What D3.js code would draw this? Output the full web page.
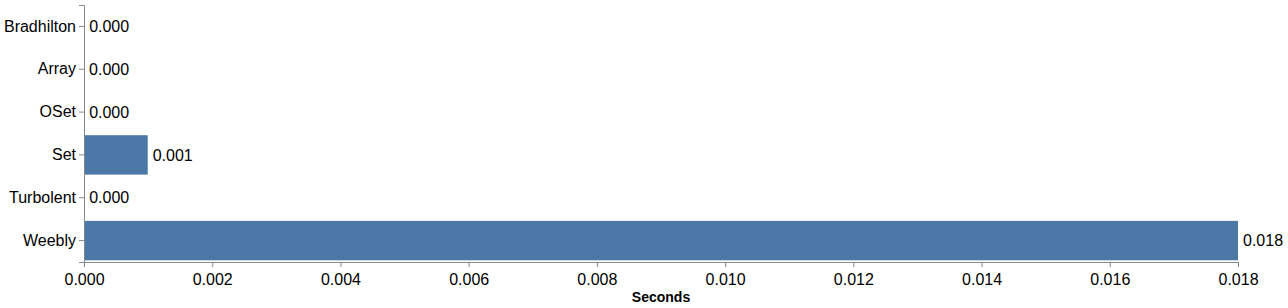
<!DOCTYPE html>
<html>
<head>
<meta charset="utf-8">
<script src="https://cdn.jsdelivr.net/npm/d3@7"></script>
<style>
  body { margin: 0; background: #fff; }
  text { font-family: "Liberation Sans", Arial, Helvetica, sans-serif; }
</style>
</head>
<body>
<svg></svg>
<script>
'use strict';

var categories = ['Bradhilton', 'Array', 'OSet', 'Set', 'Turbolent', 'Weebly'];
var seconds = [0.000002, 0.000001, 0.000002, 0.000994, 0.000003, 0.018];
var xTicks = [0, 0.002, 0.004, 0.006, 0.008, 0.010, 0.012, 0.014, 0.016, 0.018];

var SVG_SIZE = {width: 1288, height: 308};
var MARGIN_SIZE = {left: 84, right: 50, top: 5, bottom: 46};

var displayWidth = SVG_SIZE.width - MARGIN_SIZE.left - MARGIN_SIZE.right;
var displayHeight = SVG_SIZE.height - MARGIN_SIZE.top - MARGIN_SIZE.bottom;

var svg = d3.select('svg')
  .attr('width', SVG_SIZE.width).attr('height', SVG_SIZE.height);

var data = categories.map(function(c, i){ return {name: c, value: seconds[i]}; });

var xScale = d3.scaleLinear()
  .domain([0, 0.018])
  .range([0, displayWidth]);

var yScale = d3.scaleBand()
  .domain(categories)
  .range([0, displayHeight])
  .paddingInner(0.08)
  .paddingOuter(0.04);

var plot = svg.append('g')
  .attr('transform', 'translate(' + MARGIN_SIZE.left + ',' + MARGIN_SIZE.top + ')');

plot.selectAll('rect').data(data).enter().append('rect')
  .attr('x', 0)
  .attr('y', function(d){ return yScale(d.name); })
  .attr('width', function(d){ return xScale(d.value); })
  .attr('height', yScale.bandwidth())
  .attr('fill', '#4c78a8');

plot.selectAll('text.val').data(data).enter().append('text')
  .attr('class', 'val')
  .attr('x', function(d){ return xScale(d.value) + 5; })
  .attr('y', function(d){ return yScale(d.name) + yScale.bandwidth() / 2; })
  .attr('dy', '0.35em')
  .attr('font-size', 16)
  .attr('fill', '#000')
  .text(function(d){ return d3.format('.3f')(d.value); });

// x axis
var xAxis = d3.axisBottom(xScale).tickValues(xTicks).tickFormat(d3.format('.3f')).tickSizeOuter(0).tickSize(5);
var xg = svg.append('g')
  .attr('transform', 'translate(' + MARGIN_SIZE.left + ',' + (MARGIN_SIZE.top + displayHeight) + ')')
  .call(xAxis);
xg.selectAll('text').attr('font-size', 16).attr('font-family', null).attr('fill', '#000').attr('dy', '0.95em');

// y axis
var yAxis = d3.axisLeft(yScale).tickSizeOuter(0).tickSize(5);
var yg = svg.append('g')
  .attr('transform', 'translate(' + MARGIN_SIZE.left + ',' + MARGIN_SIZE.top + ')')
  .call(yAxis);
yg.selectAll('text').attr('font-size', 16).attr('font-family', null).attr('fill', '#000').attr('x', -8);

svg.selectAll('.domain').attr('stroke', '#888');
svg.selectAll('.tick line').attr('stroke', '#888');

svg.append('text')
  .text('Seconds')
  .attr('x', MARGIN_SIZE.left + displayWidth / 2)
  .attr('y', MARGIN_SIZE.top + displayHeight + 40)
  .attr('text-anchor', 'middle')
  .attr('font-weight', 'bold')
  .attr('font-size', 14)
  .attr('fill', '#000');
</script>
</body>
</html>
